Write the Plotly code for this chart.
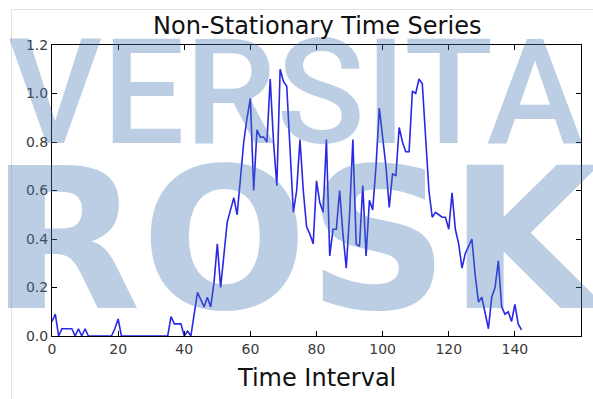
import plotly.graph_objects as go

# ---- data ----
t_values = list(range(143))
series_values = [
    0.06, 0.09, 0.00, 0.03, 0.03, 0.03, 0.03, 0.00, 0.03, 0.00,   # 0-9
    0.03, 0.00, 0.00, 0.00, 0.00, 0.00, 0.00, 0.00, 0.00, 0.03,   # 10-19
    0.07, 0.00, 0.00, 0.00, 0.00, 0.00, 0.00, 0.00, 0.00, 0.00,   # 20-29
    0.00, 0.00, 0.00, 0.00, 0.00, 0.00, 0.08, 0.05, 0.05, 0.05,   # 30-39
    0.00, 0.02, 0.00, 0.10, 0.18, 0.15, 0.12, 0.16, 0.12, 0.22,   # 40-49
    0.38, 0.20, 0.35, 0.47, 0.52, 0.57, 0.50, 0.65, 0.80, 0.90,   # 50-59
    0.98, 0.60, 0.85, 0.82, 0.82, 0.80, 1.06, 0.80, 0.62, 1.10,   # 60-69
    1.05, 1.03, 0.75, 0.51, 0.60, 0.81, 0.60, 0.45, 0.42, 0.38,   # 70-79
    0.64, 0.55, 0.51, 0.81, 0.33, 0.44, 0.44, 0.60, 0.42, 0.28,   # 80-89
    0.50, 0.81, 0.38, 0.37, 0.62, 0.33, 0.56, 0.52, 0.70, 0.94,   # 90-99
    0.82, 0.70, 0.53, 0.67, 0.66, 0.86, 0.80, 0.76, 0.76, 1.01,   # 100-109
    1.00, 1.06, 1.04, 0.80, 0.60, 0.49, 0.51, 0.50, 0.49, 0.49,   # 110-119
    0.44, 0.59, 0.44, 0.38, 0.28, 0.34, 0.37, 0.40, 0.25, 0.14,   # 120-129
    0.16, 0.09, 0.03, 0.16, 0.20, 0.31, 0.12, 0.09, 0.10, 0.06,   # 130-139
    0.13, 0.05, 0.025,                                             # 140-142
]
x_ticks = [0, 20, 40, 60, 80, 100, 120, 140, 160]
y_ticks = [0.0, 0.2, 0.4, 0.6, 0.8, 1.0, 1.2]
title_text = "Non-Stationary Time Series"
x_label = "Time Interval"
watermark_top = "VERSITA"
watermark_bottom = "ROSK"

W, H = 593, 399
L, R, T, B = 52, 12, 45, 63
PW, PH = W - L - R, H - T - B


def px_x(px):
    return (px - L) / PW


def px_y(py):
    return (H - B - py) / PH


fig = go.Figure()
fig.add_trace(go.Scatter(
    x=t_values, y=series_values, mode="lines",
    line=dict(color="rgb(40,40,230)", width=1.6),
    showlegend=False, hoverinfo="skip",
))

axis_common = dict(
    showgrid=False, zeroline=False, showline=True, linecolor="black",
    linewidth=1, mirror="allticks", ticks="inside", ticklen=5,
    tickcolor="black", tickwidth=1,
    tickfont=dict(family="DejaVu Sans", size=14, color="#3a3a3a"),
)
fig.update_xaxes(range=[0, 160], tickvals=x_ticks, **axis_common)
fig.update_yaxes(range=[0, 1.2], tickvals=y_ticks, tickformat=".1f", **axis_common)

wm_color = "rgba(70,120,180,0.36)"
annotations = [
    dict(text=watermark_top, xref="paper", yref="paper", x=px_x(295), y=px_y(93),
         xanchor="center", yanchor="middle", showarrow=False,
         font=dict(family="Roboto", size=146, weight=500, color=wm_color)),
    dict(text="<b>%s</b>" % watermark_bottom, xref="paper", yref="paper",
         x=px_x(298), y=px_y(240), xanchor="center", yanchor="middle", showarrow=False,
         font=dict(family="DejaVu Sans", size=196, color=wm_color)),
    dict(text=title_text, xref="paper", yref="paper", x=px_x(316.5), y=px_y(26),
         xanchor="center", yanchor="middle", showarrow=False,
         font=dict(family="DejaVu Sans", size=24, color="#111111")),
    dict(text=x_label, xref="paper", yref="paper", x=px_x(316.5), y=px_y(378),
         xanchor="center", yanchor="middle", showarrow=False,
         font=dict(family="DejaVu Sans", size=24, color="#111111")),
]

shapes = [
    dict(type="line", xref="paper", yref="paper", x0=px_x(11.5), x1=px_x(11.5),
         y0=px_y(9.5), y1=px_y(399), line=dict(color="#e3e3e3", width=1)),
    dict(type="line", xref="paper", yref="paper", x0=px_x(11.5), x1=px_x(593),
         y0=px_y(9.5), y1=px_y(9.5), line=dict(color="#e3e3e3", width=1)),
]

fig.update_layout(
    width=W, height=H,
    margin=dict(l=L, r=R, t=T, b=B),
    paper_bgcolor="white", plot_bgcolor="white",
    annotations=annotations, shapes=shapes,
)

fig.write_html(
    "out.html",
    config={"displayModeBar": False},
    post_script="document.body.style.margin='0px';document.body.style.overflow='hidden';",
)
